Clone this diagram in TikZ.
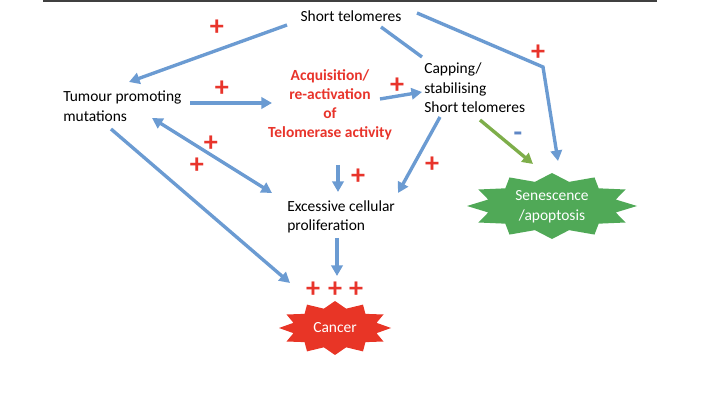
\documentclass[tikz,border=0pt]{standalone}
\usepackage{fontspec}
\setmainfont{Carlito}
\usetikzlibrary{arrows.meta,positioning}
\definecolor{flowblue}{HTML}{6B9BD2}
\definecolor{plusred}{HTML}{E8342B}
\definecolor{starred}{HTML}{E83526}
\definecolor{stargreen}{HTML}{50A957}
\definecolor{flowgreen}{HTML}{7EAE4A}
\definecolor{minusblue}{HTML}{5F87C5}
\definecolor{rulegray}{HTML}{404040}

\begin{document}
\begin{tikzpicture}[x=0.025cm,y=-0.025cm,
  txt/.style={font=\fontsize{11}{14}\selectfont,inner sep=0pt},
  flow/.style={flowblue,line width=2.4pt,-{Triangle[length=7.5pt,width=8pt]}},
  plusmark/.style={text=plusred,font=\fontsize{20}{20}\selectfont\bfseries,inner sep=0pt}]
  \useasboundingbox (0,0) rectangle (704,406);
  \draw[rulegray,line width=1.2pt] (43,1)--(657,1);
  % starbursts
  \fill[starred] plot[variable=\t,samples at={0,15,...,345}]
    ({335+(mod(\t,30)==0?56:43)*cos(\t)},{328+(mod(\t,30)==0?27:20)*sin(\t)}) -- cycle;
  \fill[stargreen] plot[variable=\t,samples at={0,15,...,345}]
    ({552+(mod(\t,30)==0?85:66)*cos(\t)},{206+(mod(\t,30)==0?33:25)*sin(\t)}) -- cycle;
  % texts
  \node[txt] (short) at (351,16) {Short telomeres};
  \node[txt,anchor=west,align=left] (tumour) at (63,106) {Tumour promoting\\mutations};
  \node[txt,align=center,text=plusred,font=\fontsize{11}{13.5}\selectfont\bfseries] (acq) at (330,105)
    {Acquisition/\\re-activation\\of\\Telomerase activity};
  \node[txt,anchor=west,align=left] (cap) at (424,88) {Capping/\\stabilising\\Short telomeres};
  \node[txt,anchor=west,align=left] (excess) at (287,217) {Excessive cellular\\proliferation};
  \node[txt,text=white] (cancer) at (335,328) {Cancer};
  \node[txt,text=white,align=center] (senes) at (552,207) {Senescence\\/apoptosis};
  % connectors
  \draw[flow] ([shift={(-64,9)}]short.center) -- ([shift={(66,-24)}]tumour.west);
  \draw[flow] ([shift={(66,-3)}]short.center) -- ([shift={(192,51)}]short.center) -- ([shift={(6,-46)}]senes.center);
  \draw[flowblue,line width=2.4pt] ([shift={(30,11)}]short.center) -- ([shift={(-2,-31)}]cap.west);
  \draw[flow] ([shift={(127,-3)}]tumour.west) -- ([shift={(-58,-2)}]acq.center);
  \draw[flow] ([shift={(50,-6)}]acq.center) -- ([shift={(-2,4)}]cap.west);
  \draw[flow,{Triangle[length=7.5pt,width=8pt]}-{Triangle[length=7.5pt,width=8pt]}] ([shift={(89,12)}]tumour.west) -- ([shift={(-15,-24)}]excess.west);
  \draw[flow] ([shift={(48,23)}]tumour.west) -- ([shift={(-45,-45)}]cancer.center);
  \draw[flow] ([shift={(8,60)}]acq.center) -- ([shift={(51,-25)}]excess.west);
  \draw[flow] ([shift={(16,29)}]cap.west) -- ([shift={(111,-24)}]excess.west);
  \draw[flow,flowgreen] ([shift={(56,32)}]cap.west) -- ([shift={(-19,-43)}]senes.center);
  \draw[flow] ([shift={(50,21)}]excess.west) -- ([shift={(2,-52)}]cancer.center);
  % signs
  \foreach \px/\py [count=\i] in {217/28,538/53,222/89,397/86,211/144,197/166,358/177,432/165,313/290,335/290,356/290}
    \node[plusmark] (plus\i) at (\px,\py) {+};
  \node[plusmark,text=minusblue] (minus) at (518,137) {-};
\end{tikzpicture}
\end{document}
